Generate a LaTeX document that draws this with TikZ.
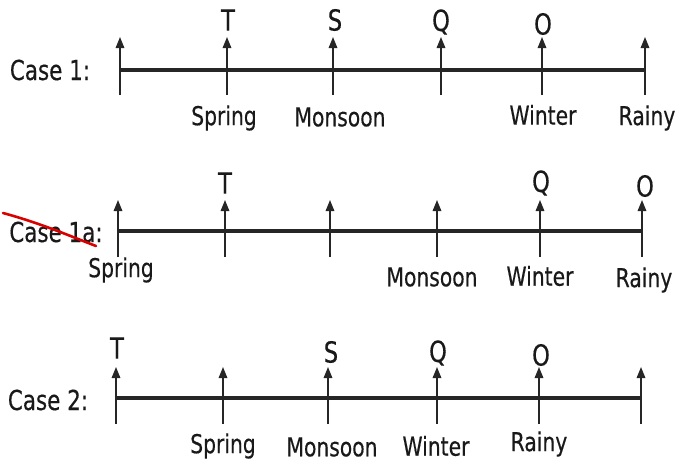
\documentclass[tikz,border=0pt]{standalone}
\usepackage{fontspec}
\setmainfont{DejaVu Sans}[FakeStretch=0.78,FakeBold=0.4]
\usetikzlibrary{arrows.meta}

\begin{document}
\begin{tikzpicture}[x=1pt,y=-1pt]
\tikzstyle{every node}+=[inner sep=0pt,text=black!90]
\tikzstyle{axis}=[line width=3.2pt,black!85]
\tikzstyle{tick}=[line width=1.6pt,black!85,-{Triangle[width=8.5pt,length=11pt]}]
\tikzstyle{season}=[font=\fontsize{26}{28}\selectfont]
\tikzstyle{letter}=[font=\fontsize{29}{31}\selectfont]
\tikzstyle{case}=[font=\fontsize{27.5}{30}\selectfont]
\useasboundingbox (0,0) rectangle (680,464);
% Case 1
\foreach \i/\x in {0/120,1/227,2/333,3/441,4/542,5/645} {
  \coordinate (a\i) at (\x,95);
  \coordinate (b\i) at (\x,37);
  \draw [tick] (a\i) -- (b\i);
}
\draw [axis] (a0 |- 0,70) -- (a5 |- 0,70);
\node [case] (c1) at (50,70) {Case 1:};
\node [letter] (a1t) at (228,20) {T};
\node [letter] (a2t) at (335,20) {S};
\node [letter] (a3t) at (441,22) {Q};
\node [letter] (a4t) at (543,24) {O};
\node [season] (a1s) at (224,118) {Spring};
\node [season] (a2s) at (340,117) {Monsoon};
\node [season] (a4s) at (543,115) {Winter};
\node [season] (a5s) at (647,118) {Rainy};
% Case 1a
\foreach \i/\x in {0/118,1/225,2/330,3/437,4/540,5/642} {
  \coordinate (d\i) at (\x,257);
  \coordinate (e\i) at (\x,200);
  \draw [tick] (d\i) -- (e\i);
}
\draw [axis] (d0 |- 0,231) -- (d5 |- 0,231);
\node [case] (c1a) at (56,232) {Case 1a:};
\draw [red!85!black,line width=2.6pt,line cap=round] (3,213) .. controls (40,223) and (70,236) .. (96,246);
\node [letter] (d1t) at (225,183) {T};
\node [letter] (d4t) at (541,183) {Q};
\node [letter] (d5t) at (645,186) {O};
\node [season] (d0s) at (121,270) {Spring};
\node [season] (d3s) at (432,277) {Monsoon};
\node [season] (d4s) at (540,276) {Winter};
\node [season] (d5s) at (644,280) {Rainy};
% Case 2
\foreach \i/\x in {0/116,1/223,2/328,3/437,4/539,5/641} {
  \coordinate (g\i) at (\x,424);
  \coordinate (h\i) at (\x,367);
  \draw [tick] (g\i) -- (h\i);
}
\draw [axis] (g0 |- 0,398) -- (g5 |- 0,398);
\node [case] (c2) at (48,400) {Case 2:};
\node [letter] (g0t) at (117,348) {T};
\node [letter] (g2t) at (331,352) {S};
\node [letter] (g3t) at (438,353) {Q};
\node [letter] (g4t) at (541,355) {O};
\node [season] (g1s) at (223,446) {Spring};
\node [season] (g2s) at (332,447) {Monsoon};
\node [season] (g3s) at (436,446) {Winter};
\node [season] (g4s) at (539,444) {Rainy};
\end{tikzpicture}
\end{document}
